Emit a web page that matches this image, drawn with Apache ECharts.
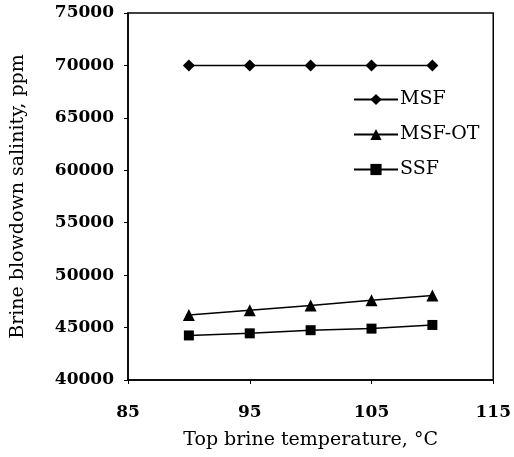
<!DOCTYPE html>
<html>
<head>
<meta charset="utf-8">
<script src="https://cdn.jsdelivr.net/npm/echarts@6/dist/echarts.min.js"></script>
<style>
html,body{margin:0;padding:0;background:#fff;}
#chart{width:514px;height:457px;}
</style>
</head>
<body>
<div id="chart"></div>
<script>
const temperatures = [90, 95, 100, 105, 110];
const msf = [70000, 70000, 70000, 70000, 70000];
const msfOT = [46200, 46650, 47100, 47600, 48050];
const ssf = [44250, 44450, 44750, 44900, 45250];
const xTicks = [85, 95, 105, 115];
const yTicks = [40000, 45000, 50000, 55000, 60000, 65000, 70000, 75000];

const font = '"DejaVu Serif", "Liberation Serif", serif';
const chart = echarts.init(document.getElementById('chart'));
function pairs(vals){ return temperatures.map((t,i)=>[t, vals[i]]); }
function mk(name, vals, symbol, size){
  return {
    name: name, type: 'line', data: pairs(vals),
    symbol: symbol, symbolSize: size, showSymbol: true,
    lineStyle: {color: '#000', width: 1.5},
    itemStyle: {color: '#000'},
    animation: false
  };
}
chart.setOption({
  backgroundColor: '#fff',
  animation: false,
  grid: {left: 128, right: 17, top: 13, bottom: 77, show: true, borderColor: '#000', borderWidth: 1.5, backgroundColor: 'transparent'},
  legend: {
    left: 348, top: 85, orient: 'vertical', itemWidth: 44, itemHeight: 14, itemGap: 16,
    textStyle: {fontFamily: font, fontSize: 19, color: '#000', padding: [0,0,0,-3]},
    data: ['MSF', 'MSF-OT', 'SSF']
  },
  xAxis: {
    type: 'value', min: xTicks[0], max: xTicks[xTicks.length-1], interval: 10,
    name: 'Top brine temperature, °C', nameLocation: 'middle', nameGap: 51,
    nameTextStyle: {fontFamily: font, fontSize: 19, color: '#000'},
    axisLine: {lineStyle: {color: '#000', width: 1.5}},
    axisTick: {show: true, inside: false, length: 4, lineStyle: {color: '#000'}},
    axisLabel: {fontFamily: font, fontSize: 17, fontWeight: 'bold', color: '#000', margin: 24},
    splitLine: {show: false}
  },
  yAxis: {
    type: 'value', min: yTicks[0], max: yTicks[yTicks.length-1], interval: 5000,
    name: 'Brine blowdown salinity, ppm', nameLocation: 'middle', nameGap: 100,
    nameTextStyle: {fontFamily: font, fontSize: 19, color: '#000'},
    axisLine: {lineStyle: {color: '#000', width: 1.5}},
    axisTick: {show: true, inside: false, length: 4, lineStyle: {color: '#000'}},
    axisLabel: {fontFamily: font, fontSize: 17, fontWeight: 'bold', color: '#000', margin: 14, formatter: v => String(v)},
    splitLine: {show: false}
  },
  series: [
    mk('MSF', msf, 'diamond', 12),
    mk('MSF-OT', msfOT, 'triangle', 12),
    mk('SSF', ssf, 'rect', 10)
  ]
});
</script>
</body>
</html>
